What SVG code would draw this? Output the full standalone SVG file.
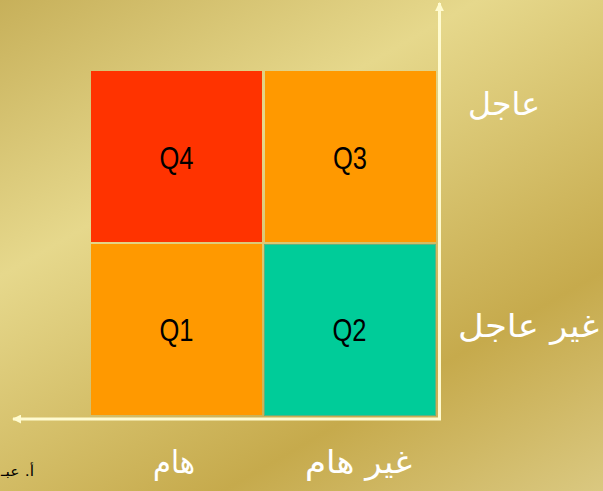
<svg xmlns="http://www.w3.org/2000/svg" width="603" height="491" viewBox="0 0 603 491">
<defs>
<linearGradient id="gold" gradientUnits="userSpaceOnUse" x1="0" y1="0" x2="363" y2="628">
<stop offset="0" stop-color="#C7B05A"/>
<stop offset="0.33" stop-color="#E6D88C"/>
<stop offset="0.74" stop-color="#C6AA4C"/>
<stop offset="1" stop-color="#DAC880"/>
</linearGradient>
<marker id="arrow" viewBox="0 0 10 10" refX="9" refY="5" markerWidth="9" markerHeight="9" markerUnits="userSpaceOnUse" orient="auto">
<path d="M0,0 L10,5 L0,10 Z" fill="#FFFBD0"/>
</marker>
<style>
.q{font-family:"Liberation Sans",Arial,sans-serif;font-size:31px;fill:#000;text-anchor:middle}
.ar{font-family:"DejaVu Sans",sans-serif;font-size:32px;fill:#FFFFFF;direction:rtl}
.ax{stroke:#FFFBD0;stroke-width:3;fill:none}
</style>
</defs>
<rect width="603" height="491" fill="url(#gold)"/>
<g id="Q4">
<rect x="91" y="71" width="171" height="171" fill="#FF3300"/>
<text class="q" x="176.5" y="169" textLength="34" lengthAdjust="spacingAndGlyphs">Q4</text>
</g>
<g id="Q3">
<rect x="265" y="71" width="171" height="171" fill="#FF9900"/>
<text class="q" x="350" y="169" textLength="34" lengthAdjust="spacingAndGlyphs">Q3</text>
</g>
<g id="Q1">
<rect x="91" y="244" width="171" height="171" fill="#FF9900"/>
<text class="q" x="176.5" y="341" textLength="34" lengthAdjust="spacingAndGlyphs">Q1</text>
</g>
<g id="Q2">
<rect x="264.5" y="244.5" width="171" height="171" fill="#00CC99" stroke="#5FB27F" stroke-width="1"/>
<text class="q" x="349.5" y="341" textLength="34" lengthAdjust="spacingAndGlyphs">Q2</text>
</g>
<g id="connectors">
<line class="ax" x1="439.5" y1="420" x2="439.5" y2="3" marker-end="url(#arrow)"/>
<line class="ax" x1="441" y1="419" x2="13" y2="419" marker-end="url(#arrow)"/>
</g>
<g id="labels">
<text class="ar" x="540" y="115" text-anchor="start" textLength="72" lengthAdjust="spacingAndGlyphs">عاجل</text>
<text class="ar" x="599" y="337" text-anchor="start" textLength="141" lengthAdjust="spacingAndGlyphs">غير عاجل</text>
<text class="ar" x="195" y="473" text-anchor="start" textLength="42" lengthAdjust="spacingAndGlyphs">هام</text>
<text class="ar" x="412" y="473" text-anchor="start" textLength="107" lengthAdjust="spacingAndGlyphs">غير هام</text>
<text x="34" y="476" style="font-family:'DejaVu Sans',sans-serif;font-size:14px;fill:#000;direction:rtl" text-anchor="start" textLength="33" lengthAdjust="spacingAndGlyphs">أ. عبـ</text>
</g>
</svg>
